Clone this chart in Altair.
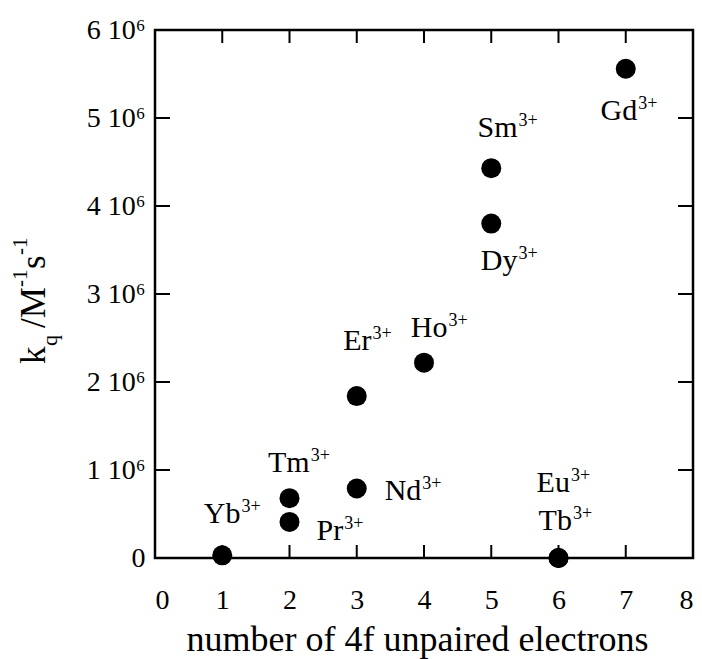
import altair as alt
import pandas as pd

# data
ions = ["Yb", "Tm", "Pr", "Er", "Nd", "Ho", "Sm", "Dy", "Gd", "Eu", "Tb"]
charge = ["3+"] * 11
unpaired = [1, 2, 2, 3, 3, 4, 5, 5, 7, 6, 6]
kq = [0.03e6, 0.68e6, 0.41e6, 1.84e6, 0.79e6, 2.22e6, 4.43e6, 3.80e6, 5.56e6, 0.0, 0.0]
# label anchor points (data units): x = junction of symbol and charge, y = baseline
label_x = [1.27, 2.30, 2.80, 3.22, 3.96, 4.35, 5.39, 5.39, 7.17, 6.17, 6.20]
label_y = [0.40e6, 0.98e6, 0.20e6, 2.36e6, 0.66e6, 2.51e6, 4.78e6, 3.27e6, 4.98e6, 0.75e6, 0.32e6]

x_ticks = [0, 1, 2, 3, 4, 5, 6, 7, 8]
y_ticks = [0, 1e6, 2e6, 3e6, 4e6, 5e6, 6e6]

W, H = 538, 528
L, T = 155, 30
SERIF = "Liberation Serif"

df = pd.DataFrame({"ion": ions, "charge": charge, "n": unpaired, "kq": kq,
                   "lx": label_x, "ly": label_y})
xt = pd.DataFrame({"v": x_ticks})
yt = pd.DataFrame({"v": y_ticks})

xscale = alt.Scale(domain=[0, 8], nice=False, zero=False)
yscale = alt.Scale(domain=[0, 6e6], nice=False, zero=False)

x_axis = alt.Axis(values=x_ticks, format="d", title="number of 4f unpaired electrons", grid=False,
                  domain=False, ticks=False, labelFont=SERIF, labelFontSize=28,
                  labelPadding=28, labelColor="black", titleFont=SERIF, titleFontSize=36,
                  titleFontWeight="normal", titleColor="black", titlePadding=8,
                  titleX=262)
y_axis = alt.Axis(values=y_ticks, title=None, grid=False, domain=False, ticks=False,
                  labelFont=SERIF, labelFontSize=28, labelPadding=10, labelColor="black",
                  labelExpr="datum.value == 0 ? '0' : format(datum.value/1e6, 'd') + ' 10⁶'")

pts = alt.Chart(df).mark_point(filled=True, color="black", opacity=1, size=400).encode(
    x=alt.X("n:Q", scale=xscale, axis=x_axis),
    y=alt.Y("kq:Q", scale=yscale, axis=y_axis),
)

base_lab = alt.Chart(df).mark_text(
    font=SERIF, fontSize=30, color="black", align="right", baseline="alphabetic"
).encode(x=alt.X("lx:Q", scale=xscale), y=alt.Y("ly:Q", scale=yscale), text="ion:N")
sup_lab = alt.Chart(df).mark_text(
    font=SERIF, fontSize=18, color="black", align="left", baseline="alphabetic", dx=1, dy=-11
).encode(x=alt.X("lx:Q", scale=xscale), y=alt.Y("ly:Q", scale=yscale), text="charge:N")

TL = 13
bot = alt.Chart(xt).mark_rule(color="black", strokeWidth=2).encode(
    x=alt.X("v:Q", scale=xscale), y=alt.value(H), y2=alt.value(H - TL))
top = alt.Chart(xt).mark_rule(color="black", strokeWidth=2).encode(
    x=alt.X("v:Q", scale=xscale), y=alt.value(0), y2=alt.value(TL))
left = alt.Chart(yt).mark_rule(color="black", strokeWidth=2).encode(
    y=alt.Y("v:Q", scale=yscale), x=alt.value(0), x2=alt.value(TL + 2))
right = alt.Chart(yt).mark_rule(color="black", strokeWidth=2).encode(
    y=alt.Y("v:Q", scale=yscale), x=alt.value(W), x2=alt.value(W - TL - 2))

# y-axis title "k_q /M^-1 s^-1" built from rotated pieces
def title_piece(txt, size, xb, ys):
    return alt.Chart(xt).transform_filter(alt.datum.v == 0).mark_text(
        text=txt, font=SERIF, fontSize=size, color="black", angle=270,
        align="left", baseline="alphabetic"
    ).encode(x=alt.value(xb - L), y=alt.value(ys - T))

ytitle = [
    title_piece("k", 35, 45, 364),
    title_piece("q", 22, 57, 346),
    title_piece("/M", 35, 45, 328),
    title_piece("-1", 21, 27, 287),
    title_piece("s", 35, 45, 269),
    title_piece("-1", 21, 27, 255),
]

chart = alt.layer(bot, top, left, right, pts, base_lab, sup_lab, *ytitle).properties(
    width=W, height=H,
    autosize=alt.AutoSizeParams(type="none"),
    padding={"left": L, "top": T, "right": 9, "bottom": 101},
    background="white",
).configure_view(stroke="black", strokeWidth=2.5)

chart.save("out.html", embed_options={"renderer": "svg", "actions": False})
